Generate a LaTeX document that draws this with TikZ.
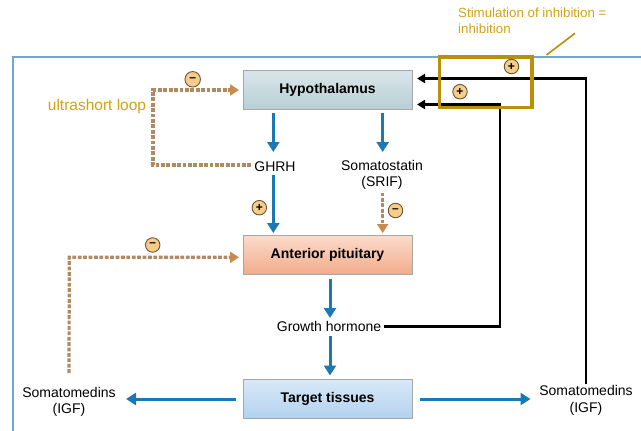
\documentclass[tikz,border=0pt]{standalone}
\usepackage{fontspec}
\setmainfont{Liberation Sans}
\usetikzlibrary{arrows.meta}
\definecolor{arrblue}{HTML}{1C78B4}
\definecolor{dashbrown}{HTML}{B08A62}
\definecolor{headbrown}{HTML}{C98A4E}
\definecolor{goldtxt}{HTML}{D4A017}
\definecolor{goldbox}{HTML}{B8900A}
\definecolor{framebl}{HTML}{6FA6DC}
\definecolor{badgefill}{HTML}{F5CC8A}
\definecolor{badgeline}{HTML}{6A5535}
\definecolor{hyptop}{HTML}{D9E6E9}
\definecolor{hypbot}{HTML}{B9CFD5}
\definecolor{aptop}{HTML}{FBDCCB}
\definecolor{apbot}{HTML}{F2AC8C}
\definecolor{tttop}{HTML}{D9E9F8}
\definecolor{ttbot}{HTML}{B3D2EF}
\tikzset{
  organ/.style={draw=gray!70, line width=0.8pt, minimum width=169pt, minimum height=39pt, font=\fontsize{14}{16}\selectfont\bfseries, inner sep=0pt},
  lbl/.style={font=\fontsize{14}{16.5}\selectfont, align=center, inner sep=1pt},
  bluearr/.style={draw=arrblue, line width=3pt, -{Triangle[length=10pt,width=12pt]}},
  brdash/.style={draw=dashbrown, line width=3.2pt, dash pattern=on 3.8pt off 1.6pt},
  brarr/.style={brdash, -{Triangle[length=9pt,width=11pt,fill=headbrown,color=headbrown]}},
  blkarr/.style={draw=black, line width=2.3pt, -{Triangle[length=8pt,width=9pt]}},
  badge/.style={circle, draw=badgeline, line width=0.9pt, fill=badgefill, minimum size=14.5pt, inner sep=0pt, font=\fontsize{12}{12}\selectfont\bfseries},
  goldlabel/.style={text=goldtxt, inner sep=0pt},
}
\begin{document}
\begin{tikzpicture}[x=1pt,y=-1pt]
\useasboundingbox (0,0) rectangle (641,431);
% frame
\draw[framebl, line width=2pt] (13.3,431) -- (13.3,56.5) -- (641,56.5);
% boxes
\node[organ, top color=hyptop, bottom color=hypbot] (hyp) at (327.5,89.5) {Hypothalamus};
\node[organ, top color=aptop, bottom color=apbot] (ap) at (327.5,254.5) {Anterior pituitary};
\node[organ, top color=tttop, bottom color=ttbot] (tt) at (327.5,398.5) {Target tissues};
% labels
\node[lbl] (ghrh) at (275,166.5) {GHRH};
\node[lbl] (srif) at (382,175) {Somatostatin\\(SRIF)};
\node[lbl] (gh) at (329,326.5) {Growth hormone};
\node[lbl] (igfl) at (69,402) {Somatomedins\\(IGF)};
\node[lbl] (igfr) at (586,400.5) {Somatomedins\\(IGF)};
\node[goldlabel, font=\fontsize{15.5}{18}\selectfont] (usl) at (97,106) {ultrashort loop};
\node[goldlabel, font=\fontsize{13.3}{16}\selectfont, align=left, anchor=north west] (stim) at (458,8) {Stimulation of inhibition =\\inhibition};
% coordinates
\coordinate (c1) at (273.3,113);
\coordinate (c2) at (273.3,152);
\coordinate (c3) at (382.7,113);
\coordinate (c4) at (382.7,152);
% blue arrows
\draw[bluearr] (hyp.south -| c1) ++(0,4) -- (c2);
\draw[bluearr] (hyp.south -| c3) ++(0,4) -- (c4);
\draw[bluearr] (273.3,175) -- (273.3,233);
\draw[bluearr] (ap.south -| 330,0) ++(0,5) -- (330,318);
\draw[bluearr] (330,336) -- (330,375.5);
\draw[bluearr] (tt.west) ++(-7,0.5) -- (126,399);
\draw[bluearr] (tt.east) ++(7.5,0.5) -- (530.5,399);
% brown dashed
\draw[brarr] (382.7,192.5) -- (382.7,233);
\draw[brarr] (ghrh.west) ++(-2,-1.5) -- (153,165) -- (153,90) -- (239,90);
\draw[brarr] (igfl.north) ++(0,-13) -- (69.3,257.3) -- (239,257.3);
% black feedback
\draw[blkarr] (gh.east) ++(2,0) -- (500,326.5) -- (500,104.5) -- (417,104.5);
\draw[blkarr] (igfr.north) ++(0,-1) -- (586,78.5) -- (417,78.5);
% gold box
\draw[goldbox, line width=3.2pt] (439.5,57) rectangle (532,107.5);
\draw[goldbox, line width=1.6pt] (546.5,55) -- (575,33.3);
% badges
\node[badge, minimum size=15.5pt] (b1) at (192.7,79.3) {\raisebox{0.3pt}{--}};
\node[badge] (b2) at (259.3,207.7) {+};
\node[badge] (b3) at (395.5,210.5) {\raisebox{0.3pt}{--}};
\node[badge] (b4) at (152.7,245) {\raisebox{0.3pt}{--}};
\node[badge] (b5) at (511.5,66.5) {+};
\node[badge] (b6) at (460,91.7) {+};
\end{tikzpicture}
\end{document}
